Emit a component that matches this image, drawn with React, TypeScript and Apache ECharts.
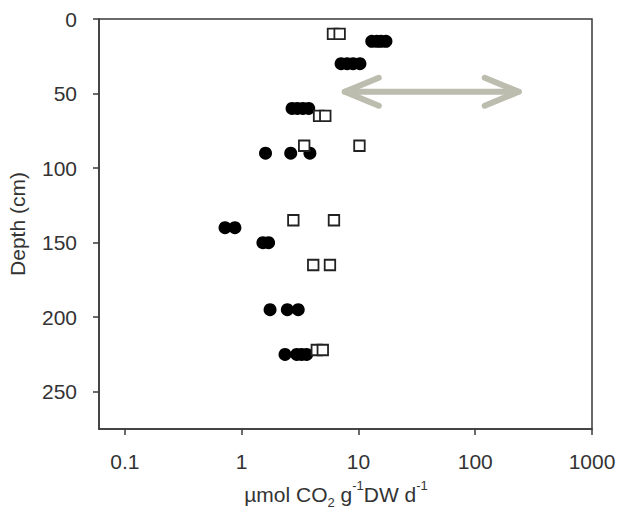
import React, { useEffect, useRef } from "react";
import * as echarts from "echarts";

// Filled circles: rate (µmol CO2 g-1 DW d-1) and depth (cm)
const circleRates = [13.0, 14.4, 15.6, 17.2, 7.1, 8.0, 9.0, 10.3, 2.7, 3.0, 3.35, 3.75, 1.6, 2.63, 3.84, 0.72, 0.875, 1.52, 1.7, 1.75, 2.46, 3.05, 2.35, 2.96, 3.26, 3.6];
const circleDepths = [15, 15, 15, 15, 30, 30, 30, 30, 60, 60, 60, 60, 90, 90, 90, 140, 140, 150, 150, 195, 195, 195, 225, 225, 225, 225];

// Open squares
const squareRates = [6.05, 6.9, 4.6, 5.2, 3.43, 10.2, 2.77, 6.17, 4.1, 5.7, 4.4, 4.95];
const squareDepths = [10, 10, 65, 65, 85, 85, 135, 135, 165, 165, 222, 222];

// Double-headed arrow annotation (rate range at a depth)
const arrowFrom = [7.2, 48.8];
const arrowTo = [250, 48.8];

const xTicks = [0.1, 1, 10, 100, 1000];
const yTicks = [0, 50, 100, 150, 200, 250];

const FONT = "Liberation Sans, Arial, sans-serif";
const TEXT = "#333333";
const AXIS = "#3a3a3a";

export default function App() {
  const ref = useRef<HTMLDivElement>(null);

  useEffect(() => {
    if (!ref.current) return;
    const chart = echarts.init(ref.current, undefined, { renderer: "svg" });

    const circles = circleRates.map((r, i) => [r, circleDepths[i]]);
    const squares = squareRates.map((r, i) => [r, squareDepths[i]]);

    const option: any = {
      animation: false,
      backgroundColor: "#ffffff",
      grid: {
        left: 99,
        right: 28,
        top: 19,
        bottom: 81,
        outerBoundsMode: "none",
        containLabel: false,
        show: true,
        borderColor: AXIS,
        borderWidth: 1.5,
        backgroundColor: "transparent",
      },
      xAxis: {
        type: "log",
        logBase: 10,
        min: 0.06,
        max: 1000,
        axisLine: { show: true, onZero: false, lineStyle: { color: AXIS, width: 1.5 } },
        axisTick: { show: true, length: 6, customValues: xTicks, lineStyle: { color: AXIS, width: 1.5 } },
        axisLabel: {
          customValues: xTicks,
          fontSize: 21,
          color: TEXT,
          fontFamily: FONT,
          margin: 22,
          formatter: (v: number) => String(v),
        },
        splitLine: { show: false },
        minorTick: { show: false },
        name: "{a|µmol CO}{sub|2}{a| g}{sup|-1}{a|DW d}{sup|-1}",
        nameLocation: "middle",
        nameGap: 50,
        nameTextStyle: {
          padding: [0, 19, 0, 0],
          rich: {
            a: { fontSize: 21, color: TEXT, fontFamily: FONT, lineHeight: 30, verticalAlign: "middle" },
            sub: { fontSize: 13, color: TEXT, fontFamily: FONT, lineHeight: 13, verticalAlign: "bottom" },
            sup: { fontSize: 13, color: TEXT, fontFamily: FONT, lineHeight: 13, verticalAlign: "top" },
          },
        },
      },
      yAxis: {
        type: "value",
        inverse: true,
        min: 0,
        max: 275,
        axisLine: { show: true, onZero: false, lineStyle: { color: AXIS, width: 1.5 } },
        axisTick: { show: true, length: 6, customValues: yTicks, lineStyle: { color: AXIS, width: 1.5 } },
        axisLabel: {
          customValues: yTicks,
          fontSize: 21,
          color: TEXT,
          fontFamily: FONT,
          margin: 22,
        },
        splitLine: { show: false },
        name: "Depth (cm)",
        nameLocation: "middle",
        nameGap: 71,
        nameTextStyle: { fontSize: 21, color: TEXT, fontFamily: FONT },
      },
      series: [
        {
          type: "custom",
          coordinateSystem: "cartesian2d",
          silent: true,
          z: 1,
          data: [[arrowFrom[0], arrowFrom[1], arrowTo[0], arrowTo[1]]],
          encode: { x: [0, 2], y: [1, 3] },
          renderItem: (_params: any, api: any) => {
            const a = api.coord([api.value(0), api.value(1)]);
            const b = api.coord([api.value(2), api.value(3)]);
            const style = { stroke: "#bcbdaf", lineWidth: 6, lineCap: "round", lineJoin: "round", fill: null };
            const hx = 34;
            const hy = 14;
            const ax = a[0] + 3;
            const bx = b[0] - 3;
            return {
              type: "group",
              children: [
                { type: "line", shape: { x1: ax, y1: a[1], x2: bx, y2: b[1] }, style },
                { type: "polyline", shape: { points: [[ax + hx, a[1] - hy], [ax, a[1]], [ax + hx, a[1] + hy]] }, style },
                { type: "polyline", shape: { points: [[bx - hx, b[1] - hy], [bx, b[1]], [bx - hx, b[1] + hy]] }, style },
              ],
            };
          },
        },
        {
          type: "scatter",
          name: "circles",
          symbol: "circle",
          symbolSize: 13,
          itemStyle: { color: "#000000", opacity: 1 },
          data: circles,
          z: 3,
        },
        {
          type: "scatter",
          name: "squares",
          symbol: "rect",
          symbolSize: 10.5,
          itemStyle: { color: "#ffffff", borderColor: "#222222", borderWidth: 1.8, opacity: 1 },
          data: squares,
          z: 4,
        },
      ],
    };

    chart.setOption(option);
    return () => chart.dispose();
  }, []);

  return (
    <div
      ref={ref}
      style={{ position: "fixed", left: 0, top: 0, width: 620, height: 510, background: "#fff" }}
    />
  );
}
